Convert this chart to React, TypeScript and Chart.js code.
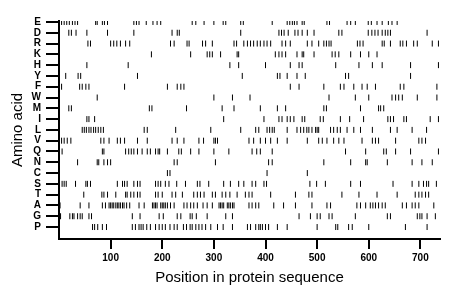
import React, { useEffect, useRef } from 'react';
import { Chart, registerables } from 'chart.js';

Chart.register(...registerables);

const aminoAcids = ['E', 'D', 'R', 'K', 'H', 'Y', 'F', 'W', 'M', 'I', 'L', 'V', 'Q', 'N', 'C', 'S', 'T', 'A', 'G', 'P'];
const xTickValues = [100, 200, 300, 400, 500, 600, 700];

const posE = [5, 10, 15, 20, 26, 31, 36, 71, 74, 84, 88, 94, 145, 150, 155, 169, 182, 190, 197, 258, 265, 281, 300, 318, 323, 352, 357, 413, 442, 447, 452, 456, 461, 471, 475, 519, 524, 558, 565, 574, 599, 605, 616, 626, 638, 645, 655];
const posD = [19, 24, 33, 54, 94, 145, 219, 229, 233, 352, 426, 431, 436, 444, 457, 463, 471, 481, 494, 542, 548, 599, 606, 612, 618, 626, 632, 637, 642, 713];
const posR = [56, 61, 100, 106, 112, 119, 129, 137, 216, 223, 248, 252, 278, 284, 297, 339, 344, 358, 365, 371, 377, 384, 390, 397, 403, 410, 432, 439, 448, 481, 490, 503, 513, 518, 523, 527, 578, 583, 589, 626, 630, 642, 661, 666, 673, 687, 694, 723, 735];
const posK = [179, 255, 287, 292, 297, 313, 345, 348, 419, 426, 432, 439, 461, 471, 474, 494, 529, 535, 542, 565, 584, 600, 616];
const posH = [54, 134, 331, 348, 400, 448, 465, 471, 536, 581, 607, 626, 681, 735];
const posY = [13, 37, 42, 152, 355, 423, 428, 442, 461, 477, 555, 561, 681];
const posF = [5, 40, 45, 52, 58, 127, 210, 229, 236, 242, 448, 465, 513, 545, 552, 571, 587, 597, 613, 661, 668, 732];
const posW = [74, 300, 336, 370, 523, 574, 600, 645, 652, 658, 665, 694, 732];
const posM = [19, 24, 175, 180, 247, 316, 339, 390, 423, 439, 513, 518, 584, 619, 623, 629];
const posI = [54, 58, 69, 319, 397, 426, 432, 442, 448, 455, 471, 476, 506, 512, 545, 563, 590, 637, 642, 648, 668, 673, 719, 735];
const posL = [45, 49, 53, 58, 62, 67, 71, 76, 81, 86, 165, 171, 226, 294, 352, 381, 387, 403, 408, 413, 417, 442, 461, 468, 474, 480, 484, 490, 497, 500, 503, 526, 532, 539, 545, 558, 571, 584, 607, 642, 655, 684, 712];
const posV = [5, 10, 16, 23, 81, 87, 97, 113, 119, 127, 152, 171, 219, 229, 242, 271, 280, 300, 303, 307, 368, 377, 390, 400, 410, 423, 442, 481, 503, 510, 519, 532, 542, 552, 587, 607, 613, 619, 652, 697, 703, 710];
const posQ = [6, 84, 87, 129, 135, 140, 145, 152, 161, 171, 177, 187, 192, 195, 210, 232, 237, 255, 271, 300, 329, 374, 383, 390, 413, 555, 594, 629, 634, 652, 681, 735];
const posN = [36, 74, 77, 87, 94, 100, 223, 229, 303, 406, 413, 513, 565, 594, 597, 636, 684, 703, 723];
const posC = [210, 215, 403, 481];
const posS = [6, 10, 14, 32, 52, 55, 61, 113, 123, 127, 132, 145, 152, 157, 187, 192, 197, 206, 213, 228, 245, 268, 273, 290, 319, 332, 348, 358, 374, 381, 397, 402, 486, 499, 516, 565, 584, 647, 684, 697, 706, 712, 716, 731];
const posT = [48, 83, 87, 94, 110, 129, 132, 139, 145, 152, 157, 187, 192, 200, 219, 226, 239, 261, 268, 274, 281, 297, 303, 316, 323, 331, 345, 361, 368, 374, 410, 458, 484, 490, 548, 581, 616, 655, 690, 697, 703, 710, 716];
const posA = [2, 41, 58, 84, 90, 97, 100, 103, 106, 110, 113, 116, 119, 123, 126, 131, 137, 155, 165, 181, 184, 187, 190, 197, 200, 203, 206, 210, 216, 223, 242, 248, 255, 261, 268, 279, 287, 297, 310, 313, 316, 319, 326, 329, 332, 336, 339, 368, 374, 381, 387, 416, 435, 458, 490, 519, 526, 577, 584, 594, 603, 608, 613, 619, 626, 632, 665, 673, 684, 690, 697, 726];
const posG = [3, 21, 26, 29, 36, 41, 45, 58, 63, 142, 157, 194, 202, 229, 236, 254, 258, 266, 287, 323, 336, 465, 487, 500, 506, 523, 529, 574, 636, 642, 694, 699, 703, 713, 729];
const posP = [65, 69, 75, 84, 92, 142, 148, 155, 159, 163, 170, 177, 187, 194, 200, 206, 215, 223, 229, 241, 247, 254, 258, 265, 271, 277, 284, 294, 307, 318, 336, 365, 371, 381, 387, 390, 394, 400, 406, 423, 442, 500, 536, 540, 561, 568, 600, 671, 713];

const positions = [posE, posD, posR, posK, posH, posY, posF, posW, posM, posI, posL, posV, posQ, posN, posC, posS, posT, posA, posG, posP];

export default function App() {
  const canvasRef = useRef<HTMLCanvasElement | null>(null);

  useEffect(() => {
    document.body.style.margin = '0';
    const canvas = canvasRef.current;
    if (!canvas) return;
    const font = "Arial, 'Liberation Sans', Helvetica, sans-serif";
    const chart = new Chart(canvas, {
      type: 'scatter',
      data: {
        datasets: aminoAcids.map((aa, i) => ({
          label: aa,
          data: positions[i].map((p) => ({ x: p, y: i })),
          pointStyle: 'line',
          rotation: 90,
          radius: 3,
          hoverRadius: 3,
          borderColor: '#000',
          backgroundColor: '#000',
          borderWidth: 1,
          showLine: false,
        })),
      },
      options: {
        responsive: false,
        animation: false,
        events: [],
        layout: { padding: { top: 21, right: 20, left: 0, bottom: 0 } },
        plugins: { legend: { display: false }, tooltip: { enabled: false } },
        scales: {
          x: {
            type: 'linear',
            min: 0,
            max: 738,
            afterBuildTicks: (s: any) => {
              s.ticks = xTickValues.map((v) => ({ value: v }));
            },
            afterFit: (s: any) => {
              s.height = 60;
            },
            ticks: {
              autoSkip: false,
              maxRotation: 0,
              padding: 3,
              color: '#000',
              font: { family: font, size: 10, weight: 'bold' },
              callback: (v: any) => String(v),
            },
            grid: { drawOnChartArea: false, drawTicks: true, tickLength: 10, lineWidth: 2, color: '#000' },
            border: { display: true, color: '#000', width: 2 },
            title: {
              display: true,
              text: 'Position in protein sequence',
              color: '#000',
              font: { family: font, size: 15 },
              padding: { top: 0, bottom: 12 },
            },
          },
          y: {
            type: 'linear',
            reverse: true,
            min: -0.09,
            max: 20.11,
            afterBuildTicks: (s: any) => {
              s.ticks = aminoAcids.map((_, i) => ({ value: i }));
            },
            afterFit: (s: any) => {
              s.width = 59;
            },
            ticks: {
              autoSkip: false,
              padding: 5,
              color: '#000',
              font: { family: font, size: 10, weight: 'bold' },
              callback: (v: any) => aminoAcids[Math.round(Number(v))] ?? '',
            },
            grid: { drawOnChartArea: false, drawTicks: true, tickLength: 13, lineWidth: 2, color: '#000' },
            border: { display: true, color: '#000', width: 2 },
            title: {
              display: true,
              text: 'Amino acid',
              color: '#000',
              font: { family: font, size: 15 },
              padding: { top: 9, bottom: 0 },
            },
          },
        },
      },
    } as any);
    return () => chart.destroy();
  }, []);

  return (
    <div style={{ position: 'absolute', left: 0, top: 0, width: 460, height: 299, background: '#fff' }}>
      <canvas ref={canvasRef} width={460} height={299} />
    </div>
  );
}
